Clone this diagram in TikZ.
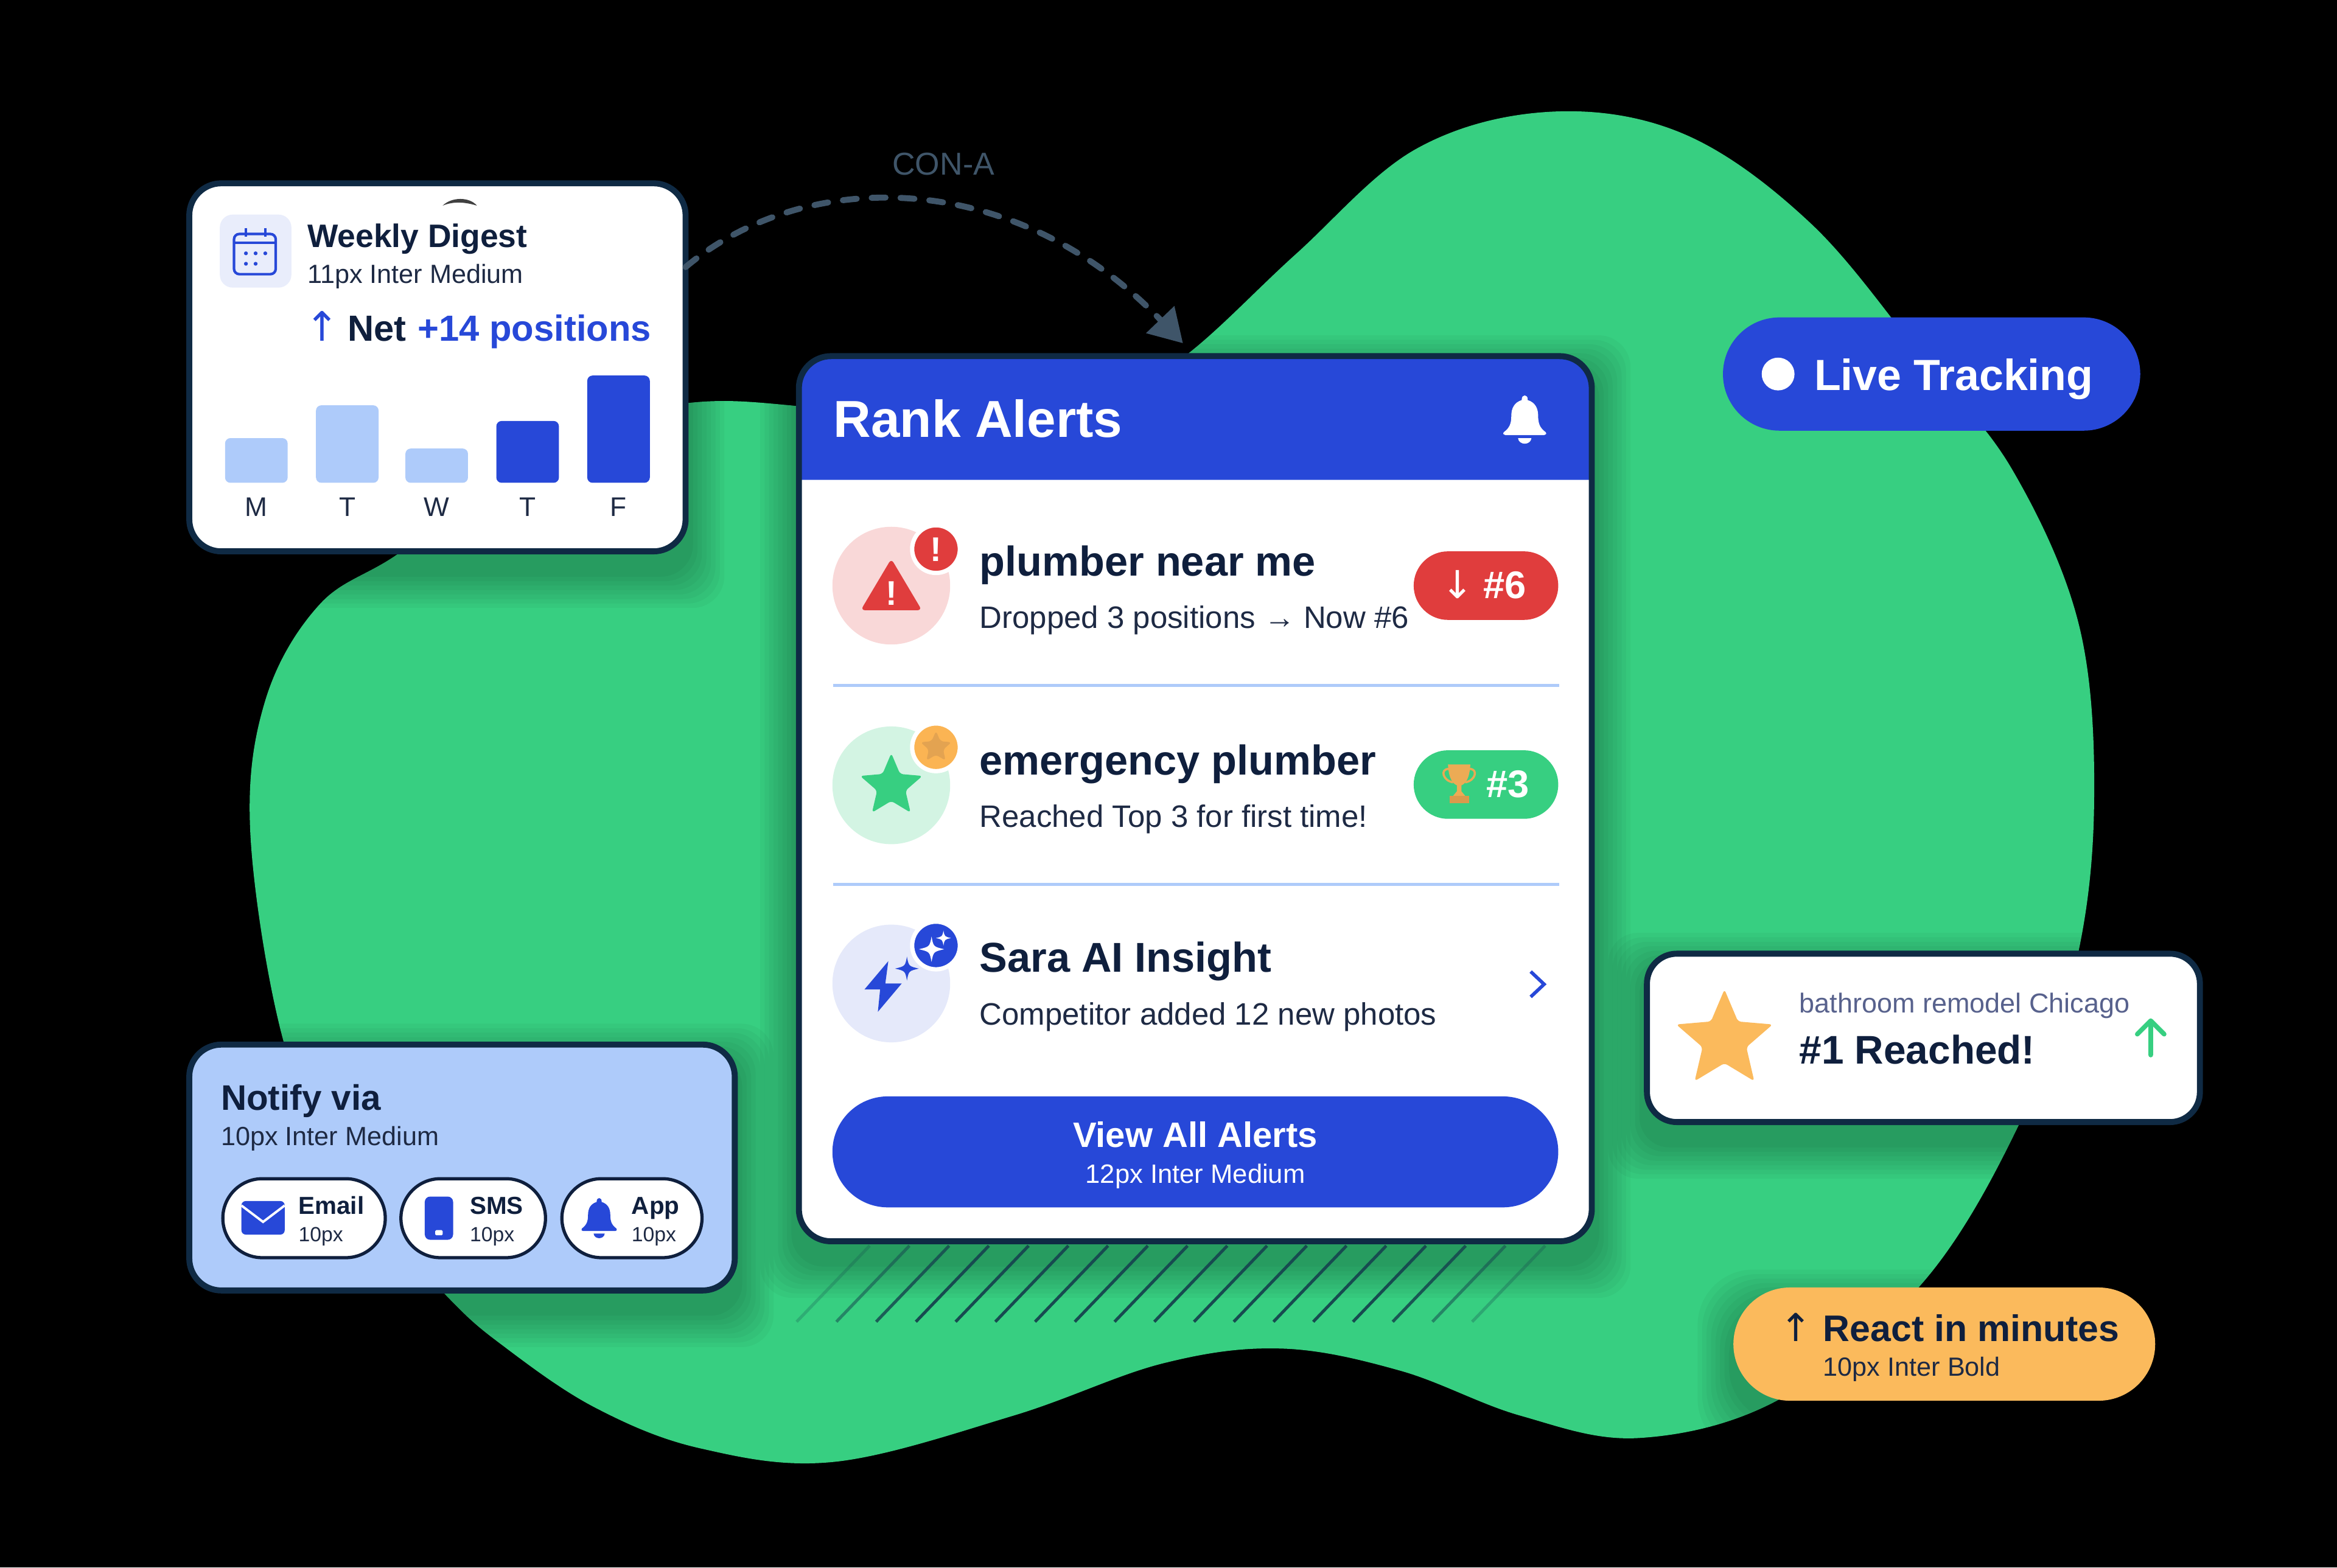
\documentclass[tikz,border=0pt]{standalone}
\usepackage{fontspec}
\setmainfont{Liberation Sans}
\newfontfamily\arrowfont{DejaVu Sans}
\usetikzlibrary{arrows.meta,shapes.geometric,shapes.misc}

\definecolor{blobgreen}{HTML}{37CF81}
\definecolor{brand}{HTML}{2748D8}
\definecolor{cardline}{HTML}{0F2A44}
\definecolor{ink}{HTML}{0F1F3D}
\definecolor{subink}{HTML}{1E2A44}
\definecolor{skyfill}{HTML}{AECBFA}
\definecolor{amber}{HTML}{FBBA5C}
\definecolor{alertred}{HTML}{E03D3D}

\newcommand{\fs}[1]{\fontsize{#1}{#1}\selectfont}
\def\u{0.02449cm}

% soft shadow under a card: x1,y1,x2,y2,radius
\newcommand{\softshadow}[5]{
  \foreach \s in {1,...,8}{
    \fill[black, opacity=0.03, rounded corners=#5] ({#1-\s*3},{#2-\s*3+12}) rectangle ({#3+\s*3},{#4+\s*3+12});
  }
}

\begin{document}
\begin{tikzpicture}[
    x=0.02449cm, y=-0.02449cm,
    card/.style={rectangle, draw=cardline, line width=2.8pt, fill=white, rounded corners=15pt, inner sep=0pt, outer sep=0pt},
    pill/.style={rounded rectangle, inner sep=0pt, outer sep=0pt},
    chip/.style={pill, fill=white, draw=ink, line width=1.5pt, minimum height=53*\u},
    halo/.style={circle, inner sep=0pt, minimum size=79*\u},
    badge/.style={circle, inner sep=0pt, draw=white, line width=2pt, minimum size=32*\u},
    starmark/.style={star, star points=5, star point ratio=2.2, inner sep=0pt, rounded corners=1.5pt},
    divider/.style={draw=skyfill, line width=1.4pt},
    bar/.style={rounded corners=2.5pt},
    titletext/.style={anchor=base west, inner sep=0pt, text=ink, font=\bfseries\fs{19.5}},
    subtext/.style={anchor=base west, inner sep=0pt, text=subink, font=\fs{14.5}},
    smalltext/.style={anchor=base west, inner sep=0pt, text=subink, font=\fs{12.3}},
    chiptext/.style={anchor=base west, inner sep=0pt, text=ink, font=\bfseries\fs{11.5}},
    chipsub/.style={anchor=base west, inner sep=0pt, text=subink, font=\fs{9.6}},
    hatch/.style={line width=1.4pt, color=cardline!80!blobgreen},
    conn/.style={draw=cardline!80!white, line width=2.8pt, line cap=round, dash pattern=on 6.5pt off 7pt, shorten >=12*\u,
      -{Triangle[length=0.54cm,width=0.62cm,fill=cardline!80!white]}},
    bell/.pic={
      \fill (-2,-13) .. controls (-2,-16.5) and (2,-16.5) .. (2,-13) -- (2,-12.5) .. controls (7,-11) and (9,-7) .. (9,-2)
        .. controls (9,3) and (10,6) .. (14,9) .. controls (15,10) and (14,11) .. (13,11) -- (-13,11)
        .. controls (-14,11) and (-15,10) .. (-14,9) .. controls (-10,6) and (-9,3) .. (-9,-2)
        .. controls (-9,-7) and (-7,-11) .. (-2,-12.5) -- cycle;
      \fill (-4.5,13) -- (4.5,13) .. controls (4,18) and (-4,18) .. (-4.5,13) -- cycle;
    },
    sparkle/.pic={
      \fill (0,-10) .. controls (1.5,-2) .. (10,0) .. controls (1.5,2) .. (0,10) .. controls (-1.5,2) .. (-10,0) .. controls (-1.5,-2) .. (0,-10) -- cycle;
    }
]

% Background and green blob
\useasboundingbox (0,0) rectangle (1568,1051.86);
\fill[black] (0,0) rectangle (1568,1051.86);
\fill[blobgreen] plot[smooth cycle, tension=0.6] coordinates {
  (1040,75) (1130,90) (1215,150) (1290,240) (1350,315) (1395,420) (1405,540) (1392,650)
  (1354,756) (1289,862) (1194,939) (1100,965) (1020,950) (940,920) (860,905) (780,915)
  (680,950) (560,981) (470,972) (400,945) (340,905) (299,869) (230,790) (190,698)
  (168,560) (178,470) (215,405) (272,368) (350,300) (450,272) (530,272) (640,290)
  (740,275) (800,235) (870,170) (950,100)};

% Shadows on the blob
\softshadow{125}{121}{462}{372}{15pt}
\softshadow{534}{237}{1070}{835}{15pt}
\softshadow{125}{699}{495}{868}{15pt}
\softshadow{1103}{638}{1478}{755}{14pt}
\softshadow{1163}{864}{1446}{940}{26pt}

% Hatching below the main card
\foreach \i/\o in {0/0.25,1/0.55,2/0.85,3/1,4/1,5/1,6/1,7/1,8/1,9/1,10/1,11/1,12/1,13/1,14/1,15/0.9,16/0.55,17/0.3}
  \draw[hatch, opacity=\o] ({534.5+26.66*\i},887) -- ++(49,-51);

% Weekly digest card
\node[card, minimum width=333*\u, minimum height=247*\u] (digest) at (293.5,246.5) {};
\fill[black!75] (297,138) .. controls (303,132) and (315,132) .. (320,138) .. controls (312,135.5) and (304,135) .. (297,138) -- cycle;
\node[rectangle, fill=brand!10, rounded corners=6pt, minimum width=48*\u, minimum height=49*\u, inner sep=0pt] (calTile) at (171.5,168.5) {};
\draw[brand, line width=1.2pt, rounded corners=2.5pt] (157,157) rectangle (185,184);
\draw[brand, line width=1.2pt] (157,163) -- (185,163) (165,153) -- (165,159) (178,153) -- (178,159);
\foreach \dx/\dy in {165/170,171.5/170,178/170,165/177,171.5/177}
  \fill[brand] (\dx,\dy) circle (1.3);
\node[titletext, font=\bfseries\fs{15.2}] (digestTitle) at (206,166) {Weekly Digest};
\node[smalltext] (digestSub) at (206,190) {11px Inter Medium};
\node[anchor=base, inner sep=0pt, text=brand, font=\arrowfont\fs{19}] (netArrow) at (216,229) {↑};
\node[titletext, font=\bfseries\fs{17}] (netWord) at (233,229) {Net};
\node[titletext, font=\bfseries\fs{17}, text=brand] (netValue) at (280,229) {+14 positions};
\fill[bar, skyfill] (151,324) rectangle (193,294);
\fill[bar, skyfill] (212,324) rectangle (254,272);
\fill[bar, skyfill] (272,324) rectangle (314,301);
\fill[bar, brand] (333,324) rectangle (375,282.5);
\fill[bar, brand] (394,324) rectangle (436,252);
\foreach \px/\day in {172/M,233/T,293/W,354/T,415/F}
  \node[anchor=base, inner sep=0pt, text=subink, font=\fs{12.6}] at (\px,346.5) {\day};

% Main alerts card
\fill[white, rounded corners=15pt] (536,239) rectangle (1068,833);
\fill[brand] (536,322) [rounded corners=14pt] -- (536,239) -- (1068,239) [sharp corners] -- (1068,322) -- cycle;
\node[card, fill=none, minimum width=532*\u, minimum height=594*\u] (alerts) at (802,536) {};
\node[titletext, text=white, font=\bfseries\fs{24.3}] (alertsTitle) at (559,293.5) {Rank Alerts};
\pic[white] at (1023,281) {bell};

% Row 1
\node[halo, fill=alertred!20] (rowOneHalo) at (598,393) {};
\fill[alertred, rounded corners=2pt] (598,375) -- (618.5,409.5) -- (577.5,409.5) -- cycle;
\node[anchor=base, inner sep=0pt, text=white, font=\bfseries\fs{16}] (rowOneMark) at (598,406) {!};
\node[badge, fill=alertred] (rowOneBadge) at (628,368.5) {};
\node[anchor=base, inner sep=0pt, text=white, font=\bfseries\fs{16}] (rowOneBang) at (628,376.5) {!};
\node[titletext] (rowOneTitle) at (657,386.5) {plumber near me};
\node[subtext] (rowOneSub) at (657,421.5) {Dropped 3 positions → Now \#6};
\node[pill, fill=alertred, minimum width=97*\u, minimum height=46*\u] (rowOnePill) at (997,393) {};
\node[anchor=base, inner sep=0pt, text=white, font=\arrowfont\fs{18}] (rowOneArrow) at (978,401.5) {↓};
\node[titletext, text=white, font=\bfseries\fs{18}] (rowOneRank) at (995,401.5) {\#6};
\draw[divider] (559,460) -- (1046,460);

% Row 2
\node[halo, fill=blobgreen!22] (rowTwoHalo) at (598,527) {};
\node[starmark, fill=blobgreen, minimum size=44*\u] (rowTwoStar) at (598,527.5) {};
\node[badge, fill=amber!90!orange] (rowTwoBadge) at (628,501.5) {};
\node[starmark, fill=amber!60!brown, minimum size=22*\u] (rowTwoMini) at (628,501.5) {};
\node[titletext] (rowTwoTitle) at (657,520) {emergency plumber};
\node[subtext] (rowTwoSub) at (657,555) {Reached Top 3 for first time!};
\node[pill, fill=blobgreen, minimum width=97*\u, minimum height=46*\u] (rowTwoPill) at (997,526.5) {};
\begin{scope}[shift={(979,526)}]
  \draw[amber!70!brown, line width=1pt] (-7,-10) .. controls (-13,-10) and (-11,-2) .. (-4,-1);
  \draw[amber!70!brown, line width=1pt] (7,-10) .. controls (13,-10) and (11,-2) .. (4,-1);
  \fill[amber!75!brown] (-7.5,-13) -- (7.5,-13) .. controls (7,-3) and (4,0) .. (1.5,1) -- (1.5,5) -- (4,8) -- (-4,8) -- (-1.5,5) -- (-1.5,1) .. controls (-4,0) and (-7,-3) .. (-7.5,-13) -- cycle;
  \fill[amber!45!brown] (-6.5,8) rectangle (6.5,13);
\end{scope}
\node[titletext, text=white, font=\bfseries\fs{18}] (rowTwoRank) at (997,535) {\#3};
\draw[divider] (559,593.5) -- (1046,593.5);

% Row 3
\node[halo, fill=brand!12] (rowThreeHalo) at (598,660) {};
\fill[brand] (596,645) -- (580,664) -- (590.5,664) -- (589,679) -- (605,660) -- (594,660) -- cycle;
\pic[brand, scale=0.8] at (608.5,650) {sparkle};
\node[badge, fill=brand] (rowThreeBadge) at (628,634.5) {};
\pic[white, scale=0.85] at (625,637) {sparkle};
\pic[white, scale=0.5] at (633,629.5) {sparkle};
\node[titletext] (rowThreeTitle) at (657,652.5) {Sara AI Insight};
\node[subtext] (rowThreeSub) at (657,688) {Competitor added 12 new photos};
\draw[brand, line width=1.6pt] (1027,652) -- (1036,660.5) -- (1027,669);

% View all button
\node[pill, fill=brand, minimum width=487*\u, minimum height=74.5*\u] (viewAll) at (802,773) {};
\node[anchor=base, inner sep=0pt, text=white, font=\bfseries\fs{16.5}] (viewTitle) at (802,770) {View All Alerts};
\node[anchor=base, inner sep=0pt, text=white, font=\fs{12.4}] (viewSub) at (802,794) {12px Inter Medium};

% Dashed connector and its label
\node[inner sep=0pt, text=cardline!80!white, font=\fs{14.8}] (conLabel) at (633,110) {CON-A};
\draw[conn] (digest.22) .. controls (540,112) and (680,112) .. (alerts.north);

% Live tracking pill
\node[pill, fill=brand, minimum width=280*\u, minimum height=76*\u] (live) at (1296,251) {};
\node[circle, fill=white, inner sep=0pt, minimum size=22*\u] (liveDot) at (1193,251) {};
\node[titletext, text=white, font=\bfseries\fs{20.4}] (liveText) at (1217,262) {Live Tracking};

% Reached card
\node[card, rounded corners=14pt, minimum width=371*\u, minimum height=113*\u] (reached) at (1290.5,696.5) {};
\node[starmark, fill=amber, minimum size=68*\u] (reachedStar) at (1157,698) {};
\node[anchor=base west, inner sep=0pt, text=black!25!brand!40!gray, font=\fs{12.8}] (reachedSub) at (1207,679.5) {bathroom remodel Chicago};
\node[titletext, font=\bfseries\fs{18.7}] (reachedTitle) at (1207,714) {\#1 Reached!};
\draw[blobgreen, line width=2.2pt, line cap=round, line join=round] (1443,708) -- (1443,685) (1434,694) -- (1443,685) -- (1452,694);

% React pill
\node[pill, fill=amber, minimum width=283*\u, minimum height=76*\u] (react) at (1304.5,902) {};
\node[anchor=base, inner sep=0pt, text=ink, font=\arrowfont\fs{18}] (reactArrow) at (1205,900) {↑};
\node[titletext, font=\bfseries\fs{17.3}] (reactTitle) at (1223,900) {React in minutes};
\node[smalltext] (reactSub) at (1223,923.5) {10px Inter Bold};

% Notify card
\node[card, fill=skyfill, minimum width=366*\u, minimum height=165*\u] (notify) at (310,783.5) {};
\node[titletext, font=\bfseries\fs{16.6}] (notifyTitle) at (148,745) {Notify via};
\node[smalltext] (notifySub) at (148,768.5) {10px Inter Medium};
\node[chip, minimum width=109*\u] (email) at (204,817.5) {};
\node[chip, minimum width=97*\u] (sms) at (317.5,817.5) {};
\node[chip, minimum width=94*\u] (app) at (424,817.5) {};
\fill[brand, rounded corners=2pt] (162,806) rectangle (191,828.5);
\draw[white, line width=1.1pt] (162,809) -- (176.5,820) -- (191,809);
\fill[brand, rounded corners=2.5pt] (285,803) rectangle (304,832);
\fill[white, rounded corners=0.5pt] (292,825.5) rectangle (297,829);
\pic[brand, scale=0.83] at (402,817) {bell};
\node[chiptext] (emailText) at (200,815) {Email};
\node[chipsub] (emailSub) at (200,833) {10px};
\node[chiptext] (smsText) at (315,815) {SMS};
\node[chipsub] (smsSub) at (315,833) {10px};
\node[chiptext] (appText) at (423.5,815) {App};
\node[chipsub] (appSub) at (423.5,833) {10px};

\end{tikzpicture}
\end{document}
